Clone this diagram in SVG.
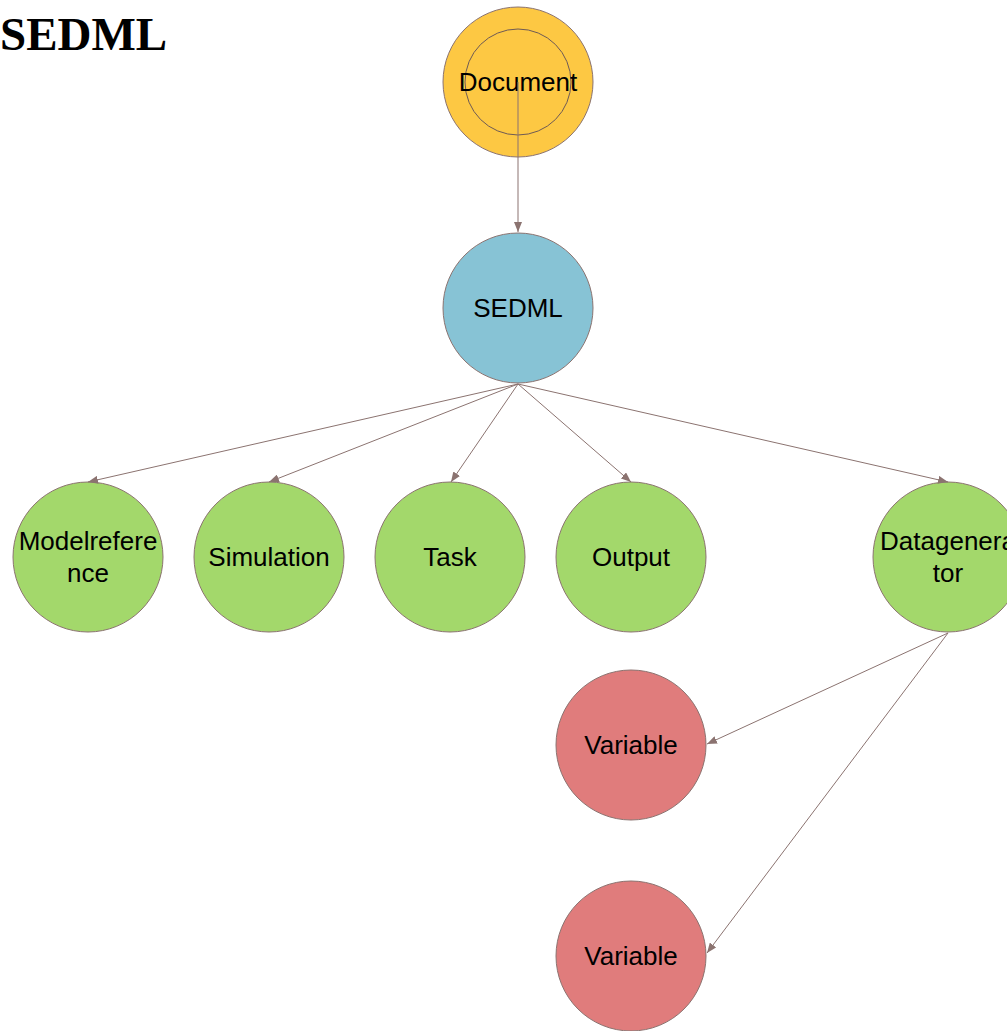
<svg xmlns="http://www.w3.org/2000/svg" width="1007" height="1031" viewBox="0 0 1007 1031">
<defs>
<style>
.n{stroke:#8B7370;stroke-width:1}
.doc{fill:#FDC843}
.root{fill:#87C3D5}
.g{fill:#A3D86B}
.v{fill:#E07C7C}
.t{font-family:"Liberation Sans",Arial,sans-serif;font-size:26px;fill:#000;text-anchor:middle}
.e{stroke:#8B7370;stroke-width:1;fill:none;marker-end:url(#ah)}
.title{font-family:"Liberation Serif","Times New Roman",serif;font-weight:bold;font-size:47px;fill:#000}
</style>
<marker id="ah" viewBox="0 0 10 8" refX="10" refY="4" markerWidth="10" markerHeight="8" markerUnits="userSpaceOnUse" orient="auto">
<path d="M0,0 L10,4 L0,8 z" fill="#8B7370"/>
</marker>
</defs>
<rect width="1007" height="1031" fill="#fff"/>
<text class="title" x="0" y="50">SEDML</text>
<g id="n-document">
<circle class="n doc" cx="518" cy="82" r="75"/>
<circle cx="518" cy="82" r="53" fill="none" stroke="#6E5A55" stroke-width="1"/>
<text class="t" x="518" y="91">Document</text>
</g>
<g id="n-sedml">
<circle class="n root" cx="518" cy="308" r="75"/>
<text class="t" x="518" y="317">SEDML</text>
</g>
<g id="n-modelreference">
<circle class="n g" cx="88" cy="557" r="75"/>
<text class="t" x="88" y="550">Modelrefere</text>
<text class="t" x="88" y="582">nce</text>
</g>
<g id="n-simulation">
<circle class="n g" cx="269" cy="557" r="75"/>
<text class="t" x="269" y="566">Simulation</text>
</g>
<g id="n-task">
<circle class="n g" cx="450" cy="557" r="75"/>
<text class="t" x="450" y="566">Task</text>
</g>
<g id="n-output">
<circle class="n g" cx="631" cy="557" r="75"/>
<text class="t" x="631" y="566">Output</text>
</g>
<g id="n-datagenerator">
<circle class="n g" cx="948" cy="557" r="75"/>
<text class="t" x="948" y="550">Datagenera</text>
<text class="t" x="948" y="582">tor</text>
</g>
<g id="n-variable1">
<circle class="n v" cx="631" cy="745" r="75"/>
<text class="t" x="631" y="754">Variable</text>
</g>
<g id="n-variable2">
<circle class="n v" cx="631" cy="956" r="75"/>
<text class="t" x="631" y="965">Variable</text>
</g>
<g id="connectors">
<line class="e" x1="518" y1="82" x2="518" y2="232"/>
<line class="e" x1="518" y1="384" x2="88" y2="482"/>
<line class="e" x1="518" y1="384" x2="269" y2="482"/>
<line class="e" x1="518" y1="384" x2="451" y2="482"/>
<line class="e" x1="518" y1="384" x2="631" y2="482"/>
<line class="e" x1="518" y1="384" x2="948" y2="482"/>
<line class="e" x1="948" y1="633" x2="707" y2="744"/>
<line class="e" x1="948" y1="633" x2="707" y2="953"/>
</g>
</svg>
